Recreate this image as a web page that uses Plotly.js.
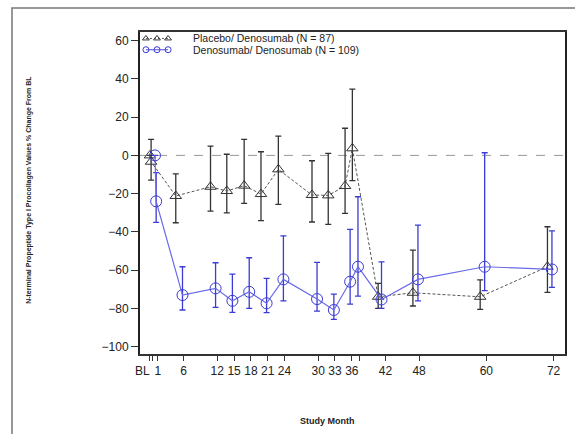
<!DOCTYPE html>
<html>
<head>
<meta charset="utf-8">
<script src="https://cdn.plot.ly/plotly-3.0.1.min.js"></script>
<style>html,body{margin:0;padding:0;background:#fff;}#chart{width:575px;height:434px;}</style>
</head>
<body>
<div id="chart"></div>
<script>
// Placebo/ Denosumab (N = 87)
const placeboMonth = [0, 0.2, 4.6, 10.8, 13.7, 16.8, 19.8, 22.9, 28.9, 31.8, 34.8, 36.1, 40.7, 46.9, 58.9, 70.9];
const placeboMean  = [0, -3.3, -21.2, -16.4, -18.6, -15.8, -20.2, -7.3, -20.7, -20.9, -16.0, 3.7, -73.9, -71.8, -73.9, -58.2];
const placeboUpper = [null, 8.4, -9.7, 4.9, 0.6, 8.4, 1.9, 10.1, -2.8, 1.1, 14.2, 34.6, -66.9, -49.5, -65.1, -37.3];
const placeboLower = [null, -12.9, -35.2, -29.1, -30.0, -25.1, -34.1, -25.6, -34.8, -36.0, -30.3, -13.2, -80.0, -78.7, -80.5, -71.6];

// Denosumab/ Denosumab (N = 109)
const denoMonth = [0.9, 1.1, 5.8, 11.7, 14.7, 17.7, 20.8, 23.8, 29.8, 32.8, 35.7, 37.1, 41.3, 47.8, 59.7, 71.7];
const denoMean  = [0, -24.0, -73.0, -69.5, -76.0, -71.3, -77.3, -64.8, -75.1, -80.8, -66.0, -58.2, -75.3, -64.8, -58.2, -59.6];
const denoUpper = [null, -9.0, -58.2, -56.1, -62.0, -53.5, -64.3, -42.1, -55.9, -72.5, -38.7, -21.6, -55.6, -36.4, 1.4, -39.4];
const denoLower = [null, -35.0, -80.8, -79.4, -82.0, -80.0, -82.2, -76.0, -81.4, -85.7, -77.7, -73.5, -80.0, -76.0, -70.7, -69.0];

const xTickVals = [0, 0.5, 1.4, 6, 12, 15, 18, 21, 24, 30, 33, 36, 37.3, 42, 48, 60, 72];
const xTickText = ['', '', '1', '6', '12', '15', '18', '21', '24', '30', '33', '36', '', '42', '48', '60', '72'];
const yTickVals = [-100, -80, -60, -40, -20, 0, 20, 40, 60];

const seriesNames = ['Placebo/ Denosumab (N = 87)', 'Denosumab/ Denosumab (N = 109)'];

// legend key (three symbols per row, drawn on a hidden 0..1 overlay axis)
const legendKeyX = [0.014, 0.040, 0.066];
const legendRowY = [0.980, 0.945];
const legendTextX = 0.122;

function plus(mean, up) { return mean.map((m, i) => up[i] === null ? null : up[i] - m); }
function minus(mean, lo) { return mean.map((m, i) => lo[i] === null ? null : m - lo[i]); }

const FONT = 'Arial, "Liberation Sans", sans-serif';
const BLUE = '#3b3bd6';
const BLUE_LINE = '#6a6ae8';
const GREY_LINE = '#555';

const traces = [
  {
    x: placeboMonth, y: placeboMean, name: seriesNames[0], type: 'scatter', mode: 'lines+markers', showlegend: false,
    line: {color: GREY_LINE, width: 1, dash: '3px,2px'},
    marker: {symbol: 'triangle-up-open', size: 10, color: '#333', line: {width: 1}},
    error_y: {type: 'data', symmetric: false, array: plus(placeboMean, placeboUpper), arrayminus: minus(placeboMean, placeboLower),
              color: '#333', thickness: 1.3, width: 3}
  },
  {
    x: denoMonth, y: denoMean, name: seriesNames[1], type: 'scatter', mode: 'lines+markers', showlegend: false,
    line: {color: BLUE_LINE, width: 1.2},
    marker: {symbol: 'circle-open', size: 11, color: BLUE, line: {width: 1}},
    error_y: {type: 'data', symmetric: false, array: plus(denoMean, denoUpper), arrayminus: minus(denoMean, denoLower),
              color: BLUE, thickness: 1.3, width: 3}
  },
  {
    x: legendKeyX, y: legendKeyX.map(() => legendRowY[0]), xaxis: 'x2', yaxis: 'y2', type: 'scatter',
    mode: 'lines+markers', showlegend: false, hoverinfo: 'skip', cliponaxis: false,
    line: {color: GREY_LINE, width: 1, dash: '2px,2px'},
    marker: {symbol: 'triangle-up-open', size: 6, color: '#333', line: {width: 1}}
  },
  {
    x: legendKeyX, y: legendKeyX.map(() => legendRowY[1]), xaxis: 'x2', yaxis: 'y2', type: 'scatter',
    mode: 'lines+markers', showlegend: false, hoverinfo: 'skip', cliponaxis: false,
    line: {color: BLUE_LINE, width: 1.2},
    marker: {symbol: 'circle-open', size: 6, color: BLUE, line: {width: 1}}
  }
];

const layout = {
  width: 575, height: 434,
  margin: {l: 140, r: 10, t: 32, b: 80},
  paper_bgcolor: '#fff', plot_bgcolor: '#fff',
  font: {family: FONT, size: 12, color: '#222'},
  showlegend: false,
  xaxis: {
    range: [-1.78, 74.03], tickmode: 'array', tickvals: xTickVals, ticktext: xTickText,
    ticks: 'outside', ticklen: 5, tickwidth: 1, tickcolor: '#333',
    showline: true, linecolor: '#333', linewidth: 2, mirror: true,
    showgrid: false, zeroline: false, tickfont: {family: FONT, size: 12, color: '#222'}
  },
  yaxis: {
    range: [-103.8, 64.5], tickmode: 'array', tickvals: yTickVals,
    ticks: 'outside', ticklen: 7, tickwidth: 1, tickcolor: '#333',
    showline: true, linecolor: '#222', linewidth: 2, mirror: true,
    showgrid: false, zeroline: false, tickfont: {family: FONT, size: 12, color: '#222'}
  },
  xaxis2: {overlaying: 'x', range: [0, 1], visible: false, fixedrange: true},
  yaxis2: {overlaying: 'y', range: [0, 1], visible: false, fixedrange: true},
  shapes: [
    {type: 'line', xref: 'paper', x0: 0, x1: 1, yref: 'y', y0: 0, y1: 0,
     line: {color: '#999', width: 1, dash: 'dash'}, layer: 'below'},
    {type: 'rect', xref: 'paper', yref: 'paper', x0: -0.3012, x1: 1.06, y0: -0.4, y1: 1.0745,
     line: {color: '#777', width: 1.5}, fillcolor: 'rgba(0,0,0,0)'}
  ],
  annotations: [
    {text: seriesNames[0], xref: 'paper', x: legendTextX, yref: 'paper', y: legendRowY[0], xanchor: 'left', yanchor: 'middle',
     showarrow: false, font: {family: FONT, size: 10.5, color: '#222'}, borderpad: 0},
    {text: seriesNames[1], xref: 'paper', x: legendTextX, yref: 'paper', y: legendRowY[1], xanchor: 'left', yanchor: 'middle',
     showarrow: false, font: {family: FONT, size: 10.5, color: '#222'}, borderpad: 0},
    {text: 'BL', xref: 'x', x: -1.4, yref: 'paper', y: 0, yshift: -8, yanchor: 'top', showarrow: false,
     font: {family: FONT, size: 12, color: '#222'}},
    {text: '<b>Study Month</b>', xref: 'paper', x: 0.44, yref: 'paper', y: -0.208, yanchor: 'middle', showarrow: false,
     font: {family: FONT, size: 9, color: '#222'}},
    {text: '<b>N-terminal Propeptide Type I Procollagen Values % Change From BL</b>', textangle: -90,
     xref: 'paper', x: -0.261, yref: 'paper', y: 0.51, xanchor: 'center', yanchor: 'middle', showarrow: false,
     font: {family: FONT, size: 7, color: '#222'}}
  ]
};

Plotly.newPlot('chart', traces, layout, {displayModeBar: false, staticPlot: true});
</script>
</body>
</html>
